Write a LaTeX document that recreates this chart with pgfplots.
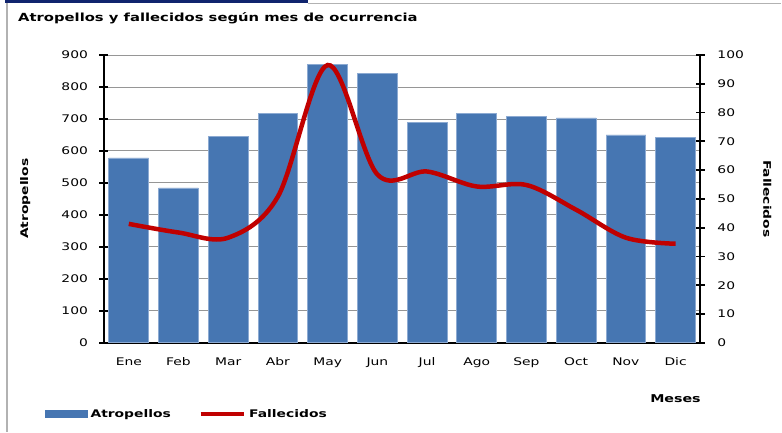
\documentclass[border=0pt]{standalone}
\usepackage{pgfplots}
\pgfplotsset{compat=1.18}
\usepackage{fontspec}
\setmainfont{DejaVu Sans}[FakeStretch=1.32]
\definecolor{barblue}{RGB}{70,118,178}
\definecolor{baredge}{RGB}{140,170,210}
\definecolor{linered}{RGB}{192,0,0}
\definecolor{frameblue}{RGB}{16,36,110}
\definecolor{gridgray}{RGB}{150,150,150}
\begin{document}
\begin{tikzpicture}
\path (0pt,0pt) rectangle (782pt,-432pt);
\fill[frameblue] (5pt,0pt) rectangle (308pt,-3.5pt);
\draw[gray!60,line width=1.2pt] (308pt,-3.2pt) -- (782pt,-3.2pt);
\draw[gray!60,line width=1.5pt] (7pt,-3pt) -- (7pt,-432pt);
\node[anchor=west,font=\fontsize{11.2}{12}\selectfont\bfseries,inner sep=0pt] at (18pt,-18pt) {Atropellos y fallecidos según mes de ocurrencia};
\node[font=\fontsize{10.8}{12}\selectfont\bfseries] at (676pt,-399pt) {Meses};
\begin{axis}[
  at={(104pt,-343pt)}, anchor=south west,
  scale only axis, width=597pt, height=288pt,
  xmin=-0.5, xmax=11.5, ymin=0, ymax=900,
  axis y line*=left, axis x line*=bottom,
  axis line style={line width=2pt, black, -},
  xtick={0,...,11},
  xticklabels={Ene,Feb,Mar,Abr,May,Jun,Jul,Ago,Sep,Oct,Nov,Dic},
  major x tick style={draw=none},
  extra x ticks={0.5,1.5,...,10.5},
  extra x tick labels={},
  extra x tick style={major tick length=7pt, tick align=center, grid=none, major tick style={line width=1.8pt,black,draw=black}},
  ytick={0,100,...,900},
  tick align=center,
  major tick length=9pt,
  y tick style={line width=1.8pt,black},
  ymajorgrids, grid style={gridgray, line width=0.8pt},
  tick label style={font=\fontsize{10.5}{12}\selectfont},
  yticklabel style={xshift=-8pt},
  /pgf/number format/assume math mode=true,
  ylabel={\bfseries Atropellos},
  ylabel style={font=\fontsize{10.5}{12}\selectfont, anchor=center, at={(axis description cs:-0.132,0.5)}},
  xticklabel style={anchor=north, text height=1.6ex, text depth=0.4ex, yshift=-1pt},
  ybar, bar width=0.8,
]
\addplot[fill=barblue, draw=baredge, line width=0.8pt] coordinates {
(0,578) (1,484) (2,644) (3,716) (4,869) (5,841) (6,688) (7,716) (8,709) (9,703) (10,650) (11,641)};
\end{axis}
\begin{axis}[
  at={(104pt,-343pt)}, anchor=south west,
  scale only axis, width=597pt, height=288pt,
  xmin=-0.5, xmax=11.5, ymin=0, ymax=100,
  axis y line*=right, axis x line=none,
  axis line style={line width=2pt, black, -},
  ytick={0,10,...,100},
  tick align=center,
  major tick length=9pt,
  y tick style={line width=1.8pt,black},
  tick label style={font=\fontsize{10.5}{12}\selectfont},
  yticklabel style={xshift=9pt},
  /pgf/number format/assume math mode=true,
  ylabel={\bfseries Fallecidos},
  ylabel style={font=\fontsize{10.5}{12}\selectfont, rotate=180, anchor=center, at={(axis description cs:1.112,0.5)}},
  legend columns=2,
  legend style={at={(axis description cs:-0.0988,-0.247)}, anchor=west, draw=none, fill=none, inner sep=0pt,
    font=\fontsize{10.5}{12}\selectfont\bfseries, column sep=1pt,
    /tikz/every even column/.append style={column sep=26pt}},
  legend cell align=left,
]
\addlegendimage{legend image code/.code={\fill[barblue] (0pt,-3.5pt) rectangle (42pt,3.5pt);}}
\addlegendentry{Atropellos}
\addplot[linered, line width=4.5pt, smooth, tension=0.55,
  legend image code/.code={\draw[linered, line width=3.5pt] (0pt,0pt) -- (44pt,0pt);}] coordinates {
(0,41.3) (1,38.3) (2,36.5) (3,50.8) (4,96.5) (5,58.5) (6,59.5) (7,54.3) (8,54.8) (9,46.2) (10,36.5) (11,34.4)};
\addlegendentry{Fallecidos}
\end{axis}
\end{tikzpicture}
\end{document}
